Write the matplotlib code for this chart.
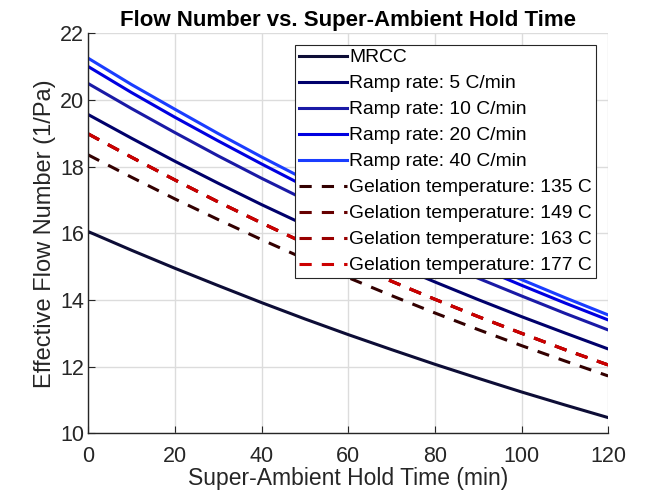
import matplotlib
matplotlib.use("Agg")
import matplotlib.pyplot as plt

time_min = [0, 10, 20, 30, 40, 50, 60, 70, 80, 90, 100, 110, 120]

mrcc = [16.05, 15.49, 14.95, 14.43, 13.92, 13.43, 12.96, 12.51, 12.07, 11.65, 11.24, 10.85, 10.47]
ramp_5 = [19.56, 18.85, 18.16, 17.50, 16.86, 16.25, 15.66, 15.09, 14.54, 14.01, 13.50, 13.01, 12.53]
ramp_10 = [20.49, 19.74, 19.02, 18.32, 17.65, 17.01, 16.39, 15.79, 15.21, 14.65, 14.12, 13.60, 13.10]
ramp_20 = [21.00, 20.22, 19.48, 18.77, 18.08, 17.41, 16.77, 16.16, 15.56, 14.99, 14.44, 13.91, 13.40]
ramp_40 = [21.25, 20.46, 19.72, 18.99, 18.29, 17.62, 16.97, 16.35, 15.75, 15.17, 14.61, 14.07, 13.55]
gel_135 = [18.35, 17.68, 17.03, 16.41, 15.81, 15.23, 14.67, 14.13, 13.61, 13.11, 12.63, 12.17, 11.72]
gel_149 = [18.98, 18.28, 17.60, 16.94, 16.31, 15.70, 15.12, 14.56, 14.02, 13.50, 13.00, 12.51, 12.05]
gel_163 = [18.98, 18.28, 17.60, 16.94, 16.31, 15.70, 15.12, 14.56, 14.02, 13.50, 13.00, 12.51, 12.05]
gel_177 = [18.98, 18.28, 17.60, 16.94, 16.31, 15.70, 15.12, 14.56, 14.02, 13.50, 13.00, 12.51, 12.05]

labels = ["MRCC", "Ramp rate: 5 C/min", "Ramp rate: 10 C/min", "Ramp rate: 20 C/min",
          "Ramp rate: 40 C/min", "Gelation temperature: 135 C", "Gelation temperature: 149 C",
          "Gelation temperature: 163 C", "Gelation temperature: 177 C"]
series = [mrcc, ramp_5, ramp_10, ramp_20, ramp_40, gel_135, gel_149, gel_163, gel_177]
colors = ["#0d0d36", "#00006b", "#1a1aa6", "#0000e0", "#1a3dff",
          "#330000", "#660000", "#990000", "#cc0000"]
styles = ["-"] * 5 + ["--"] * 4

plt.rcParams['font.family'] = ['Liberation Sans', 'DejaVu Sans']

fig = plt.figure(figsize=(6.45, 4.99), dpi=100)
ax = fig.add_axes([0.1369, 0.1317, 0.806, 0.8016])

for y, lab, c, ls in zip(series, labels, colors, styles):
    if ls == "--":
        ax.plot(time_min, y, ls, color=c, lw=2.2, label=lab, dashes=(4.0, 3.3))
    else:
        ax.plot(time_min, y, ls, color=c, lw=2.2, label=lab)

ax.set_xlim(0, 120)
ax.set_ylim(10, 22)
ax.set_xticks([0, 20, 40, 60, 80, 100, 120])
ax.set_yticks([10, 12, 14, 16, 18, 20, 22])
ax.grid(True, color="#dcdcdc", lw=1)
ax.set_axisbelow(True)
for s in ["top", "right"]:
    ax.spines[s].set_visible(False)
for s in ["left", "bottom"]:
    ax.spines[s].set_color("#262626")
    ax.spines[s].set_linewidth(1)
ax.tick_params(direction="in", length=5, labelsize=15.5, colors="#262626", labelcolor="#262626")
ax.tick_params(axis="x", pad=9)
ax.tick_params(axis="y", pad=3)
ax.set_xlabel("Super-Ambient Hold Time (min)", fontsize=16.5, color="#262626", labelpad=0)
ax.set_ylabel("Effective Flow Number (1/Pa)", fontsize=17, color="#262626", labelpad=3)
ax.set_title("Flow Number vs. Super-Ambient Hold Time", fontsize=16, fontweight="bold", pad=5)

leg = ax.legend(loc="upper right", bbox_to_anchor=(0.976, 0.971), fontsize=13.9,
                frameon=True, fancybox=False, edgecolor="#262626", framealpha=1,
                borderpad=0.2, labelspacing=0.44, handlelength=2.5, handletextpad=0.1,
                borderaxespad=0)
leg.get_frame().set_linewidth(0.8)

fig.savefig("out.png", dpi=100)
